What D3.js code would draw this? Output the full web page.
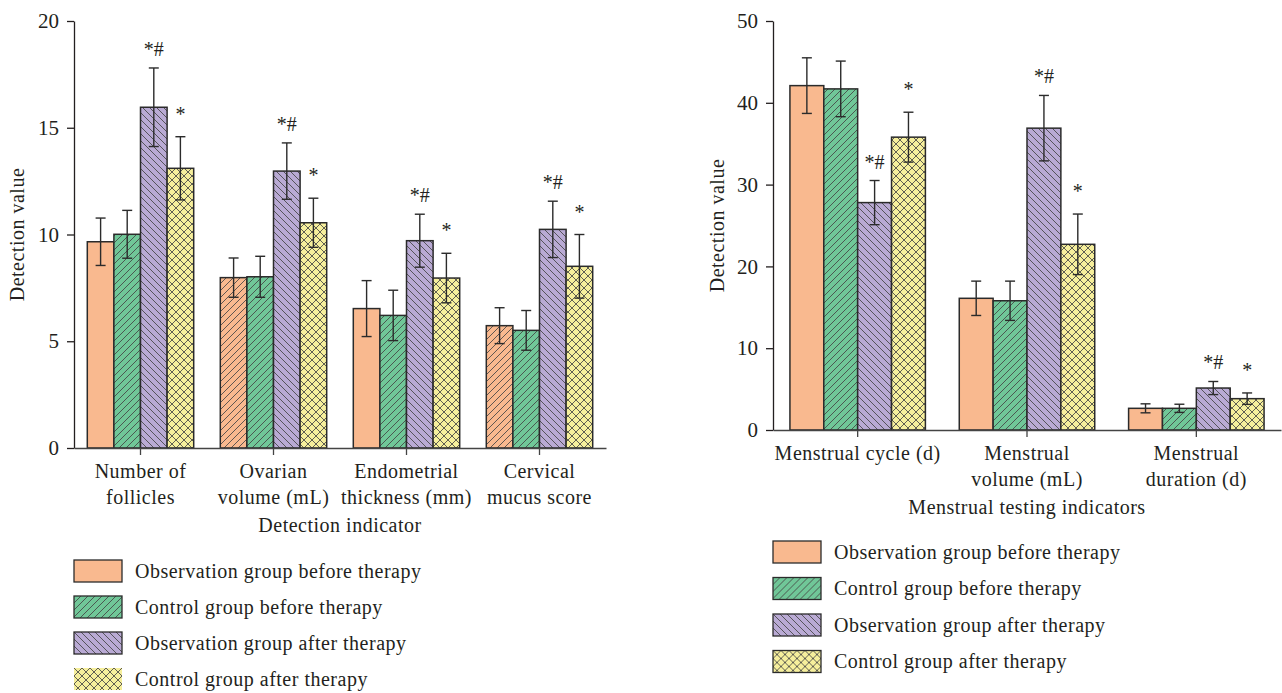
<!DOCTYPE html>
<html>
<head>
<meta charset="utf-8">
<script src="https://cdn.jsdelivr.net/npm/d3@7"></script>
<style>
  body { margin: 0; background: #fff; }
  svg text { font-family: "Liberation Serif", "DejaVu Serif", serif; fill: #231f20; }
</style>
</head>
<body>
<div id="chart"></div>
<script>
// series names (legend order)
const seriesNames = [
  'Observation group before therapy',
  'Control group before therapy',
  'Observation group after therapy',
  'Control group after therapy'
];
const seriesMarks = ['', '', '*#', '*'];

// left panel: detection indicators
const leftCategories = [['Number of', 'follicles'], ['Ovarian', 'volume (mL)'], ['Endometrial', 'thickness (mm)'], ['Cervical', 'mucus score']];
const leftObsBefore = [9.66, 7.98, 6.53, 5.73];
const leftCtrlBefore = [10.01, 8.02, 6.21, 5.51];
const leftObsAfter = [15.96, 12.97, 9.71, 10.24];
const leftCtrlAfter = [13.10, 10.55, 7.96, 8.51];
const leftObsBeforeSd = [1.11, 0.92, 1.31, 0.84];
const leftCtrlBeforeSd = [1.12, 0.96, 1.18, 0.93];
const leftObsAfterSd = [1.84, 1.32, 1.24, 1.32];
const leftCtrlAfterSd = [1.48, 1.15, 1.16, 1.49];
const leftTicks = [0, 5, 10, 15, 20];

// right panel: menstrual testing indicators
const rightCategories = [['Menstrual cycle (d)'], ['Menstrual', 'volume (mL)'], ['Menstrual', 'duration (d)']];
const rightObsBefore = [42.1, 16.1, 2.65];
const rightCtrlBefore = [41.7, 15.8, 2.65];
const rightObsAfter = [27.8, 36.9, 5.13];
const rightCtrlAfter = [35.8, 22.7, 3.83];
const rightObsBeforeSd = [3.4, 2.1, 0.55];
const rightCtrlBeforeSd = [3.4, 2.4, 0.5];
const rightObsAfterSd = [2.7, 4.0, 0.8];
const rightCtrlAfterSd = [3.05, 3.7, 0.7];
const rightTicks = [0, 10, 20, 30, 40, 50];

const colors = ['#f9b98f', '#70c798', '#b9aad4', '#f6ef9c'];
const fills = ['url(#plainOrange)', 'url(#hatchGreen)', 'url(#hatchPurple)', 'url(#crossYellow)'];

const svg = d3.select('#chart').append('svg')
    .attr('width', 1282)
    .attr('height', 693);

// patterns
const defs = svg.append('defs');
function makePattern(id, bg, size, paths) {
  let p = defs.append('pattern')
      .attr('id', id)
      .attr('patternUnits', 'userSpaceOnUse')
      .attr('width', size)
      .attr('height', size);
  p.append('rect').attr('width', size).attr('height', size).attr('fill', bg);
  paths.forEach((d) => {
    p.append('path').attr('d', d).attr('stroke', '#454545').attr('stroke-width', 0.85).attr('fill', 'none');
  });
}
const s = 7;
const up = `M0,${s} L${s},0 M-1,1 L1,-1 M${s - 1},${s + 1} L${s + 1},${s - 1}`;
const down = `M0,0 L${s},${s} M-1,${s - 1} L1,${s + 1} M${s - 1},-1 L${s + 1},1`;
makePattern('plainOrange', colors[0], s, []);
makePattern('hatchOrange', colors[0], s, [up]);
makePattern('hatchGreen', colors[1], s, [up]);
makePattern('hatchPurple', colors[2], s, [down]);
const c = 8;
makePattern('crossYellow', colors[3], c, [
  `M0,${c} L${c},0 M-1,1 L1,-1 M${c - 1},${c + 1} L${c + 1},${c - 1}`,
  `M0,0 L${c},${c} M-1,${c - 1} L1,${c + 1} M${c - 1},-1 L${c + 1},1`
]);

function label(sel) {
  return sel.style('font-size', '20px').style('letter-spacing', '0.5px');
}

function drawPanel(opts) {
  let {categories, values, sds, ticks, x0, x1, yTop, yBottom, yMax, yTitleX, xTitle, xTitleY, orangeFill} = opts;

  let g = svg.append('g');

  let x = d3.scaleBand()
      .domain(d3.range(categories.length))
      .range([x0, x1])
      .paddingInner(0.2)
      .paddingOuter(0.1);
  let xs = d3.scaleBand()
      .domain(d3.range(4))
      .range([0, x.bandwidth()]);
  let y = d3.scaleLinear().domain([0, yMax]).range([yBottom, yTop]);

  // bars
  let rows = [];
  categories.forEach((cat, i) => {
    values.forEach((arr, k) => {
      rows.push({cat: i, s: k, v: arr[i], sd: sds[k][i]});
    });
  });

  g.selectAll('.bar')
    .data(rows)
    .enter()
    .append('rect')
    .attr('class', 'bar')
    .attr('x', (d) => x(d.cat) + xs(d.s))
    .attr('y', (d) => y(d.v))
    .attr('width', xs.bandwidth())
    .attr('height', (d) => y(0) - y(d.v))
    .attr('fill', (d) => d.s === 0 ? orangeFill(d.cat) : fills[d.s])
    .attr('stroke', '#2b2b2b')
    .attr('stroke-width', 1.5);

  // error bars
  let eb = g.selectAll('.err')
    .data(rows)
    .enter()
    .append('g')
    .attr('class', 'err')
    .attr('stroke', '#2b2b2b')
    .attr('stroke-width', 1.4);
  let cx = (d) => x(d.cat) + xs(d.s) + xs.bandwidth() / 2;
  eb.append('line')
    .attr('x1', cx).attr('x2', cx)
    .attr('y1', (d) => y(d.v + d.sd)).attr('y2', (d) => y(d.v - d.sd));
  eb.append('line')
    .attr('x1', (d) => cx(d) - 5).attr('x2', (d) => cx(d) + 5)
    .attr('y1', (d) => y(d.v + d.sd)).attr('y2', (d) => y(d.v + d.sd));
  eb.append('line')
    .attr('x1', (d) => cx(d) - 5).attr('x2', (d) => cx(d) + 5)
    .attr('y1', (d) => y(d.v - d.sd)).attr('y2', (d) => y(d.v - d.sd));

  // significance marks
  g.selectAll('.mark')
    .data(rows.filter((d) => seriesMarks[d.s]))
    .enter()
    .append('text')
    .attr('class', 'mark')
    .attr('x', cx)
    .attr('y', (d) => y(d.v + d.sd) - (d.s === 2 ? 12 : 16))
    .attr('text-anchor', 'middle')
    .style('font-size', '20px')
    .text((d) => seriesMarks[d.s]);

  // y axis
  let ya = g.append('g')
      .attr('transform', 'translate(' + x0 + ',0)')
      .call(d3.axisLeft(y).tickValues(ticks).tickSize(7).tickSizeOuter(0).tickPadding(8));
  ya.selectAll('text').style('font-size', '21px').attr('fill', '#231f20');
  ya.selectAll('line, path').attr('stroke', '#231f20').attr('stroke-width', 1.3);

  // x axis
  let xa = g.append('g')
      .attr('transform', 'translate(0,' + yBottom + ')')
      .call(d3.axisBottom(x).tickSize(7).tickSizeOuter(0).tickFormat(''));
  xa.selectAll('line, path').attr('stroke', '#444').attr('stroke-width', 1.3);

  // category labels
  categories.forEach((lines, i) => {
    let t = g.append('text')
        .attr('text-anchor', 'middle')
        .call(label);
    lines.forEach((ln, j) => {
      t.append('tspan')
        .attr('x', x(i) + x.bandwidth() / 2)
        .attr('y', yBottom + 30 + j * 26)
        .text(ln);
    });
  });

  // axis titles
  g.append('text')
    .attr('x', (x0 + x1) / 2)
    .attr('y', xTitleY)
    .attr('text-anchor', 'middle')
    .call(label)
    .text(xTitle);

  g.append('text')
    .attr('transform', 'translate(' + yTitleX + ',' + (yTop + yBottom) / 2 + ') rotate(-90)')
    .attr('text-anchor', 'middle')
    .call(label)
    .text('Detection value');
}

drawPanel({
  categories: leftCategories,
  values: [leftObsBefore, leftCtrlBefore, leftObsAfter, leftCtrlAfter],
  sds: [leftObsBeforeSd, leftCtrlBeforeSd, leftObsAfterSd, leftCtrlAfterSd],
  ticks: leftTicks,
  x0: 74, x1: 606, yTop: 21, yBottom: 448, yMax: 20,
  yTitleX: 24, xTitle: 'Detection indicator', xTitleY: 532,
  orangeFill: (i) => i % 2 === 1 ? 'url(#hatchOrange)' : 'url(#plainOrange)'
});

drawPanel({
  categories: rightCategories,
  values: [rightObsBefore, rightCtrlBefore, rightObsAfter, rightCtrlAfter],
  sds: [rightObsBeforeSd, rightCtrlBeforeSd, rightObsAfterSd, rightCtrlAfterSd],
  ticks: rightTicks,
  x0: 773, x1: 1281, yTop: 21, yBottom: 430, yMax: 50,
  yTitleX: 724, xTitle: 'Menstrual testing indicators', xTitleY: 514,
  orangeFill: () => 'url(#plainOrange)'
});

// legends
function drawLegend(lx, ly, step, lastBorder) {
  let lg = svg.append('g').attr('transform', 'translate(' + lx + ',' + ly + ')');
  let items = lg.selectAll('.item')
    .data(seriesNames)
    .enter()
    .append('g')
    .attr('transform', (d, i) => 'translate(0,' + i * step + ')');
  items.append('rect')
    .attr('width', 48)
    .attr('height', 22)
    .attr('fill', (d, i) => fills[i])
    .attr('stroke', (d, i) => (i === 3 && !lastBorder) ? 'none' : '#2b2b2b')
    .attr('stroke-width', 1.3);
  items.append('text')
    .attr('x', 61)
    .attr('y', 11)
    .attr('dy', '0.33em')
    .call(label)
    .text((d) => d);
}
drawLegend(74, 560, 36, false);
drawLegend(773, 541, 36.5, true);
</script>
</body>
</html>
